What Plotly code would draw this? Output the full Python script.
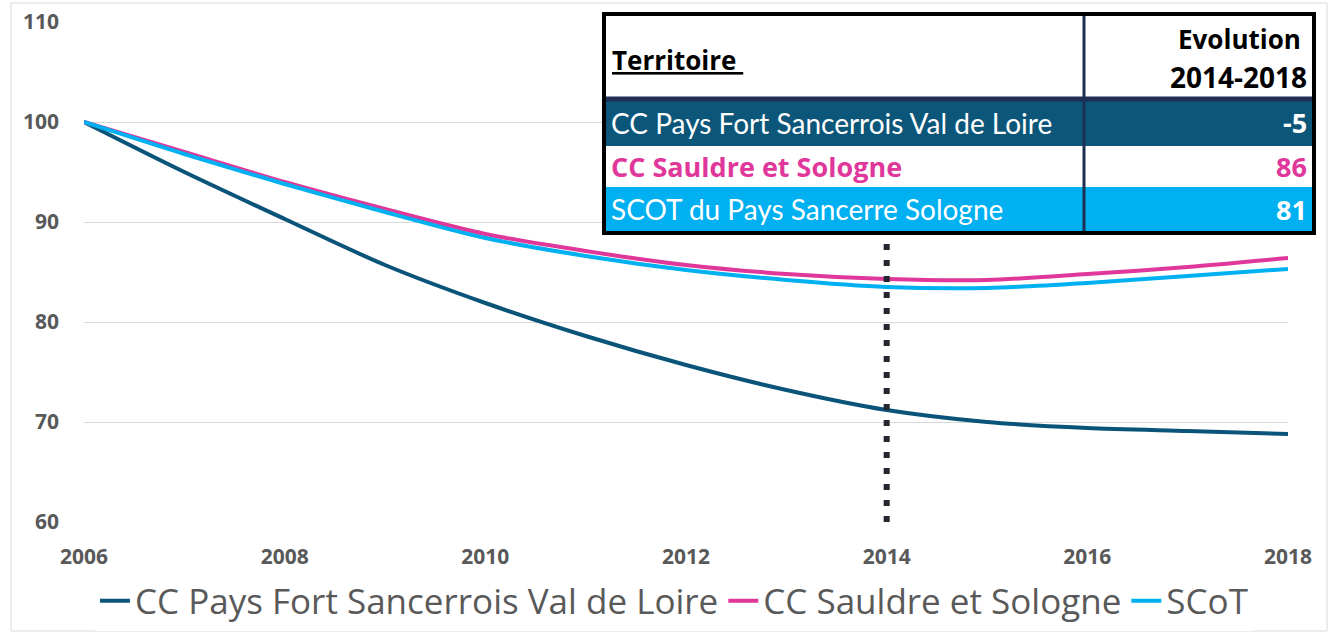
import plotly.graph_objects as go

years = list(range(2006, 2019))
pays_fort = [100, 95.0, 90.3, 85.7, 81.9, 78.6, 75.7, 73.2, 71.2, 70.0, 69.4, 69.1, 68.8]
sauldre = [100, 97.0, 94.0, 91.3, 88.8, 87.1, 85.7, 84.8, 84.3, 84.2, 84.8, 85.5, 86.4]
scot = [100, 96.8, 93.8, 91.0, 88.4, 86.6, 85.2, 84.2, 83.5, 83.4, 83.9, 84.6, 85.3]

series_names = ["CC Pays Fort Sancerrois Val de Loire", "CC Sauldre et Sologne", "SCoT"]
series_colors = ["#0b5479", "#e0379a", "#00b0f0"]

ref_year = 2014
ref_line_y = [60, 88.3]

table_territoires = ["CC Pays Fort Sancerrois Val de Loire", "CC Sauldre et Sologne", "SCOT du Pays Sancerre Sologne"]
table_evolution = ["-5", "86", "81"]
table_header = ["Territoire ", "Evolution", "2014-2018"]

W, H = 1332, 632
L, R, T, B = 84, 44, 22, 110
pw, ph = W - L - R, H - T - B


def px(x):
    return (x - L) / pw


def py(y):
    return (H - B - y) / ph


fig = go.Figure()
for name, vals, col in zip(series_names, [pays_fort, sauldre, scot], series_colors):
    fig.add_trace(go.Scatter(x=years, y=vals, name=name, mode="lines",
                             line=dict(color=col, width=4, shape="spline", smoothing=0.8)))

fig.add_trace(go.Scatter(x=[ref_year, ref_year], y=ref_line_y, mode="lines", showlegend=False,
                         line=dict(color="#262630", width=6, dash="6px,10px")))

shapes = []
annotations = []
# chart border
shapes.append(dict(type="rect", xref="paper", yref="paper", x0=px(11), x1=px(1327), y0=py(3), y1=py(631),
                   line=dict(color="#d9d9d9", width=1), fillcolor="rgba(0,0,0,0)", layer="below"))

tx0, tx1, ty0, ty1 = 604, 1314, 14, 233
xdiv = 1084
rows = [(100, 146, "#0b5679", "white", False), (146, 187, "white", "#e0379a", True), (187, 231, "#00b0f0", "white", False)]
shapes.append(dict(type="rect", xref="paper", yref="paper", x0=px(tx0), x1=px(tx1), y0=py(ty1), y1=py(ty0),
                   fillcolor="white", line=dict(width=0), layer="above"))
for (y0, y1, bg, fg, bold), terr, ev in zip(rows, table_territoires, table_evolution):
    shapes.append(dict(type="rect", xref="paper", yref="paper", x0=px(tx0), x1=px(tx1), y0=py(y1), y1=py(y0),
                       fillcolor=bg, line=dict(width=0), layer="above"))
    ym = py((y0 + y1) / 2)
    if bold:
        tfont = dict(family="Open Sans", size=27, color=fg, weight="bold")
    else:
        tfont = dict(family="Lato", size=28, color=fg)
    annotations.append(dict(xref="paper", yref="paper", x=px(609), y=ym, xanchor="left", yanchor="middle",
                            text=terr, showarrow=False, font=tfont))
    annotations.append(dict(xref="paper", yref="paper", x=px(1309), y=ym, xanchor="right", yanchor="middle",
                            text=ev, showarrow=False,
                            font=dict(family="Open Sans", size=27, color=fg, weight="bold")))
shapes.append(dict(type="line", xref="paper", yref="paper", x0=px(tx0), x1=px(tx1), y0=py(99), y1=py(99),
                   line=dict(color="#1f2f55", width=5), layer="above"))
shapes.append(dict(type="line", xref="paper", yref="paper", x0=px(xdiv), x1=px(xdiv), y0=py(ty1), y1=py(ty0),
                   line=dict(color="#1f2f55", width=3), layer="above"))
shapes.append(dict(type="rect", xref="paper", yref="paper", x0=px(tx0), x1=px(tx1), y0=py(ty1), y1=py(ty0),
                   fillcolor="rgba(0,0,0,0)", line=dict(color="black", width=4), layer="above"))

hfont = dict(family="Open Sans", size=26, color="black", weight="bold")
annotations.append(dict(xref="paper", yref="paper", x=px(610), y=py(60), xanchor="left", yanchor="middle",
                        text="<u>%s</u>" % table_header[0], showarrow=False, font=hfont))
annotations.append(dict(xref="paper", yref="paper", x=px(1303), y=py(39), xanchor="right", yanchor="middle",
                        text=table_header[1], showarrow=False, font=hfont))
annotations.append(dict(xref="paper", yref="paper", x=px(1309), y=py(77), xanchor="right", yanchor="middle",
                        text=table_header[2], showarrow=False,
                        font=dict(family="Open Sans", size=28, color="black", weight="bold")))

tickfont = dict(family="Open Sans", size=21, color="#595959", weight="bold")
fig.update_layout(
    width=W, height=H,
    margin=dict(l=L, r=R, t=T, b=B, autoexpand=False),
    paper_bgcolor="white", plot_bgcolor="white",
    xaxis=dict(range=[2006, 2018], tickmode="array", tickvals=list(range(2006, 2019, 2)),
               showgrid=False, zeroline=False, showline=False, ticks="",
               tickfont=tickfont, ticklabelstandoff=20),
    yaxis=dict(range=[60, 110], tickvals=[60, 70, 80, 90, 100, 110], showgrid=True, gridcolor="#d9d9d9",
               gridwidth=1, zeroline=False, showline=False, ticks="",
               tickfont=tickfont, ticklabelstandoff=24),
    legend=dict(orientation="h", x=0.49, xanchor="center", y=-0.158, yanchor="middle",
                font=dict(family="Open Sans", size=35, color="#595959"), itemwidth=30,
                tracegroupgap=0),
    shapes=shapes, annotations=annotations,
    showlegend=True,
)

fig.write_html("out.html", config={"displayModeBar": False},
               post_script="document.body.style.margin='0px';document.body.style.overflow='hidden';")
